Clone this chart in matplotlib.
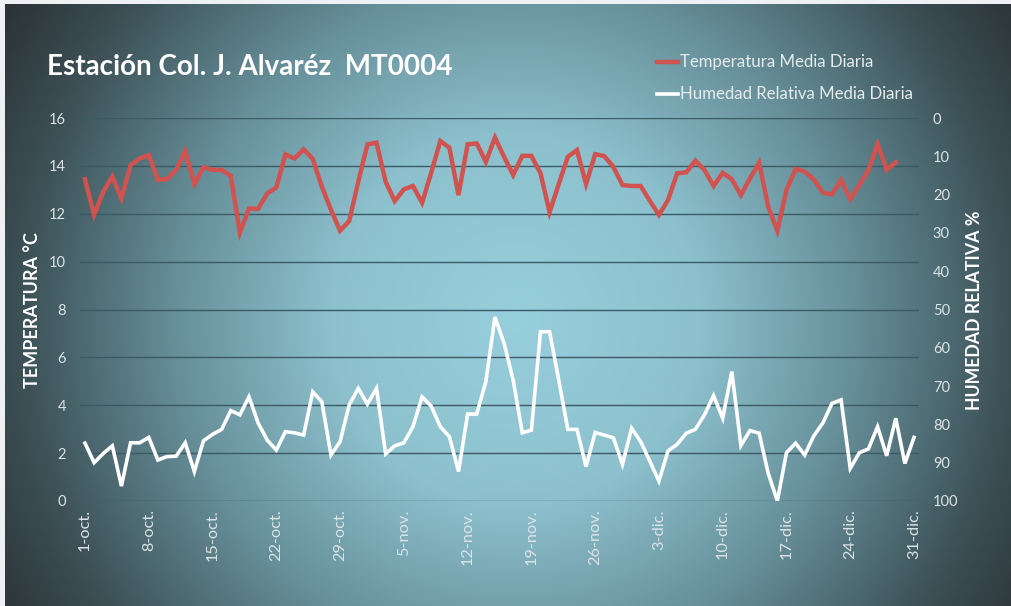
import numpy as np
import matplotlib
matplotlib.use("Agg")
import matplotlib.pyplot as plt
from matplotlib.lines import Line2D

# ---- data ----
dias_tick_labels = ["1-oct.", "8-oct.", "15-oct.", "22-oct.", "29-oct.", "5-nov.", "12-nov.",
                    "19-nov.", "26-nov.", "3-dic.", "10-dic.", "17-dic.", "24-dic.", "31-dic."]

temperatura = [13.44, 11.95, 12.92, 13.55, 12.64, 14.03, 14.31, 14.45, 13.41, 13.45,
               13.83, 14.62, 13.24, 13.94, 13.83, 13.83, 13.58, 11.21, 12.22, 12.20,
               12.85, 13.10, 14.48, 14.31, 14.69, 14.29, 13.13, 12.16, 11.29, 11.70,
               13.34, 14.90, 14.97, 13.34, 12.53, 13.02, 13.16, 12.46, 13.71, 15.04,
               14.76, 12.78, 14.90, 14.94, 14.17, 15.18, 14.38, 13.62, 14.42, 14.42,
               13.69, 12.06, 13.24, 14.38, 14.66, 13.24, 14.49, 14.41, 13.96, 13.20,
               13.16, 13.16, 12.54, 11.95, 12.57, 13.69, 13.73, 14.22, 13.83, 13.16,
               13.71, 13.44, 12.78, 13.48, 14.13, 12.29, 11.29, 12.99, 13.87, 13.76,
               13.44, 12.88, 12.81, 13.41, 12.60, 13.20, 13.83, 14.91, 13.83, 14.15]

humedad = [84.9, 90.0, 87.6, 85.6, 96.1, 84.8, 84.8, 83.4, 89.3, 88.4,
           88.3, 84.8, 92.3, 84.3, 82.6, 81.3, 76.4, 77.5, 72.8, 79.6,
           84.1, 86.7, 81.9, 82.2, 82.8, 71.5, 74.1, 88.0, 84.5, 74.9,
           70.6, 74.7, 70.6, 87.7, 85.6, 84.8, 80.6, 72.8, 75.2, 80.6,
           83.2, 92.3, 77.3, 77.3, 68.8, 52.0, 58.8, 68.4, 82.2, 81.5,
           55.8, 55.8, 68.4, 81.3, 81.3, 91.0, 82.1, 82.8, 83.5, 90.4,
           81.0, 84.5, 89.6, 94.8, 86.9, 85.2, 82.3, 81.3, 77.5, 72.5,
           78.4, 66.2, 85.5, 81.6, 82.3, 92.8, 100.0, 87.4, 84.9, 88.0,
           83.0, 79.6, 74.5, 73.6, 91.5, 87.4, 86.4, 80.6, 88.2, 78.4,
           90.2, 83.4]

titulo = "Estación Col. J. Alvaréz  MT0004"
serie_t = "Temperatura Media Diaria"
serie_h = "Humedad Relativa Media Diaria"

W, H = 1011, 606
fig = plt.figure(figsize=(W / 100, H / 100), dpi=100)
fig.patch.set_facecolor("#eef0f4")

FONT = ["Lato", "DejaVu Sans"]

# ---- radial gradient background ----
bx0 = 5 / W
by1 = 1 - 4 / H
bg = fig.add_axes([bx0, 0, 1 - bx0, by1])
bg.set_axis_off()
nx, ny = 1006, 602
xx, yy = np.meshgrid(np.arange(nx) + 5, np.arange(ny) + 4)
d = np.sqrt((xx - 515) ** 2 + ((yy - 320) * 1.0) ** 2) / 620.0
stops_t = [0.0, 0.3, 0.55, 0.8, 1.0, 1.3]
cols = np.array([[152, 207, 220], [140, 192, 205], [102, 143, 153],
                 [60, 80, 86], [40, 44, 46], [38, 40, 42]]) / 255.0
img = np.zeros((ny, nx, 3))
for c in range(3):
    img[..., c] = np.interp(d, stops_t, cols[:, c])
bg.imshow(img, aspect="auto", extent=[0, 1, 0, 1], origin="upper")
bg.set_xlim(0, 1)
bg.set_ylim(0, 1)
bg.set_zorder(-5)

# ---- main axes ----
left, right = 80 / W, 919 / W
bottom, top = 1 - 501 / H, 1 - 118 / H
ax = fig.add_axes([left, bottom, right - left, top - bottom])
ax.set_facecolor("none")
ax2 = ax.twinx()
ax2.set_facecolor("none")

x_t = np.arange(len(temperatura))
x_h = np.arange(len(humedad))

grid_col = "#3b5a63"
for v in range(0, 17, 2):
    ax.axhline(v, color=grid_col, lw=1.0, zorder=1)

ax.plot(x_t, temperatura, color="#d0534f", lw=3.2, solid_joinstyle="miter", zorder=3)
ax2.plot(x_h, humedad, color="white", lw=2.6, solid_joinstyle="miter", zorder=3)

ax.set_xlim(-0.55, 91.55)
ax.set_ylim(0, 16)
ax2.set_ylim(100, 0)

tick_col = "#dce3e6"
ax.set_yticks(range(0, 17, 2))
ax.set_yticklabels([str(v) for v in range(0, 17, 2)], fontsize=10.5, color=tick_col, family=FONT)
ax2.set_yticks(range(0, 101, 10))
ax2.set_yticklabels([str(v) for v in range(0, 101, 10)], fontsize=10.5, color=tick_col, family=FONT)
ax.set_xticks(np.arange(0, 92, 7))
ax.set_xticklabels(dias_tick_labels, rotation=90, fontsize=11.8, color=tick_col, family=FONT,
                   va="top", ha="center")
ax.tick_params(axis="y", length=0, pad=10)
ax2.tick_params(axis="y", length=0, pad=10)
ax.tick_params(axis="x", length=0, pad=6)
for a in (ax, ax2):
    for s in a.spines.values():
        s.set_visible(False)

# axis titles
fig.text(33 / W, 1 - 310 / H, "TEMPERATURA °C", rotation=90, ha="center", va="center",
         fontsize=13, fontweight="bold", color="white", family=FONT)
fig.text(975 / W, 1 - 310 / H, "HUMEDAD RELATIVA %", rotation=90, ha="center", va="center",
         fontsize=12.8, fontweight="bold", color="white", family=FONT)

# title
fig.text(47 / W, 1 - 67 / H, titulo, ha="left", va="center", fontsize=20,
         fontweight="bold", color="white", family=FONT)

# legend (manual)
fig.add_artist(Line2D([657 / W, 678 / W], [1 - 62 / H, 1 - 62 / H], color="#d0534f", lw=3.2,
                      transform=fig.transFigure))
fig.text(680 / W, 1 - 62 / H, serie_t, ha="left", va="center", fontsize=12.1,
         color="#e6ecee", family=FONT)
fig.add_artist(Line2D([657 / W, 678 / W], [1 - 94 / H, 1 - 94 / H], color="white", lw=2.6,
                      transform=fig.transFigure))
fig.text(680 / W, 1 - 94 / H, serie_h, ha="left", va="center", fontsize=12.1,
         color="#e6ecee", family=FONT)

fig.savefig("out.png", dpi=100)
